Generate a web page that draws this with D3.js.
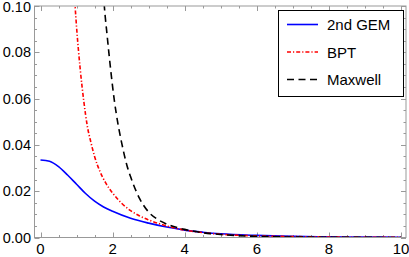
<!DOCTYPE html>
<html>
<head>
<meta charset="utf-8">
<script src="https://cdn.jsdelivr.net/npm/d3@7"></script>
<style>
  body { margin: 0; background: #fff; }
  text { font-family: "Liberation Sans", Arial, sans-serif; }
</style>
</head>
<body>
<div id="chart"></div>
<script>
// values
let gemX = [0, 0.25, 0.5, 0.75, 1, 1.25, 1.5, 1.75, 2, 2.5, 3, 3.5, 4, 4.5, 5, 6, 7, 8, 9, 10]
let gemY = [0.0335, 0.0329, 0.0306, 0.0270, 0.0230, 0.0190, 0.0157, 0.0132, 0.0113, 0.0083, 0.0062, 0.0045, 0.0032, 0.0023, 0.0016, 0.0009, 0.0005, 0.0003, 0.0002, 0.0001]

let bptX = [0.9, 0.96, 1.0, 1.1, 1.2, 1.3, 1.4, 1.5, 1.65, 1.8, 2.0, 2.25, 2.5, 2.75, 3.0, 3.5, 4, 4.5, 5, 6, 7, 8, 9, 10]
let bptY = [0.118, 0.1, 0.091, 0.073, 0.059, 0.048, 0.041, 0.035, 0.0285, 0.0238, 0.0192, 0.0148, 0.0116, 0.0093, 0.0076, 0.0050, 0.0032, 0.0021, 0.0014, 0.0007, 0.0004, 0.0002, 0.0001, 0.0001]

let maxX = [1.7, 1.77, 1.85, 1.95, 2.05, 2.15, 2.25, 2.4, 2.5, 2.75, 3.0, 3.25, 3.5, 4, 4.5, 5, 6, 7, 8, 9, 10]
let maxY = [0.116, 0.1, 0.087, 0.072, 0.059, 0.049, 0.041, 0.031, 0.0262, 0.0168, 0.0110, 0.0078, 0.0058, 0.0035, 0.0021, 0.0013, 0.0005, 0.0002, 0.0001, 0.00005, 0]

let seriesNames = ["2nd GEM", "BPT", "Maxwell"]
let xTicks = [0, 2, 4, 6, 8, 10]
let yTicks = [0, 0.02, 0.04, 0.06, 0.08, 0.10]

let width = 409
let height = 257

let svg = d3.select("#chart")
  .append("svg")
  .attr("width", width)
  .attr("height", height)

let xScale = d3.scaleLinear().domain([0, 10]).range([40.5, 401])
let yScale = d3.scaleLinear().domain([0, 0.1]).range([237.5, 6])

let frameL = 34.5, frameR = 406, frameT = 6, frameB = 237.5
let frameColor = "#999"

// minor ticks every 0.5 on x and 0.005 on y
let xMinor = d3.range(0, 10.01, 0.5)
let yMinor = d3.range(0, 0.1001, 0.005)

let ticks = svg.append("g").attr("stroke", frameColor).attr("stroke-width", 1)

function tickLen(major) { return major ? 5 : 2.5 }

xMinor.forEach(v => {
  let major = Math.abs(v / 2 - Math.round(v / 2)) < 1e-6
  let x = Math.round(xScale(v)) + 0.5
  ticks.append("line").attr("x1", x).attr("x2", x).attr("y1", frameB).attr("y2", frameB - tickLen(major))
  ticks.append("line").attr("x1", x).attr("x2", x).attr("y1", frameT).attr("y2", frameT + tickLen(major))
})
yMinor.forEach(v => {
  let major = Math.abs(v / 0.02 - Math.round(v / 0.02)) < 1e-6
  let y = Math.round(yScale(v)) + 0.5
  ticks.append("line").attr("x1", frameL).attr("x2", frameL + tickLen(major)).attr("y1", y).attr("y2", y)
  ticks.append("line").attr("x1", frameR).attr("x2", frameR - tickLen(major)).attr("y1", y).attr("y2", y)
})

// tick labels
svg.append("g").selectAll("text")
  .data(xTicks)
  .enter()
  .append("text")
  .attr("x", d => xScale(d))
  .attr("y", 254)
  .attr("text-anchor", "middle")
  .attr("font-size", 15)
  .text(d => d)

svg.append("g").selectAll("text")
  .data(yTicks)
  .enter()
  .append("text")
  .attr("x", 31)
  .attr("y", d => Math.max(yScale(d) + 5, 11.5))
  .attr("text-anchor", "end")
  .attr("font-size", 14.5)
  .text(d => d3.format(".2f")(d))

// curves
svg.append("clipPath").attr("id", "clip")
  .append("rect")
  .attr("x", frameL).attr("y", frameT)
  .attr("width", frameR - frameL).attr("height", frameB - frameT)

let line = d3.line()
  .x(d => xScale(d[0]))
  .y(d => yScale(d[1]))
  .curve(d3.curveMonotoneX)

let styles = [
  {color: "#0000ff", dash: null},
  {color: "#ff0000", dash: "4,2,1.2,2"},
  {color: "#000000", dash: "7,4.5"}
]
let seriesData = [
  d3.zip(gemX, gemY),
  d3.zip(bptX, bptY),
  d3.zip(maxX, maxY)
]

let plot = svg.append("g").attr("clip-path", "url(#clip)")
seriesData.forEach((s, i) => {
  plot.append("path")
    .datum(s)
    .attr("d", line)
    .attr("fill", "none")
    .attr("stroke", styles[i].color)
    .attr("stroke-width", 1.6)
    .attr("stroke-dasharray", styles[i].dash)
})

// frame
svg.append("rect")
  .attr("x", frameL).attr("y", frameT)
  .attr("width", frameR - frameL).attr("height", frameB - frameT)
  .attr("fill", "none")
  .attr("stroke", frameColor)

// legend
let legend = svg.append("g")
legend.append("rect")
  .attr("x", 278.5).attr("y", 10.5)
  .attr("width", 125).attr("height", 86)
  .attr("fill", "#fff")
  .attr("stroke", "#000")

seriesNames.forEach((name, i) => {
  let y = 24.5 + i * 27.5
  legend.append("line")
    .attr("x1", 287).attr("x2", 318)
    .attr("y1", y).attr("y2", y)
    .attr("stroke", styles[i].color)
    .attr("stroke-width", 1.6)
    .attr("stroke-dasharray", styles[i].dash)
  legend.append("text")
    .attr("x", 327)
    .attr("y", y + 5.5)
    .attr("font-size", 15)
    .text(name)
})
</script>
</body>
</html>
